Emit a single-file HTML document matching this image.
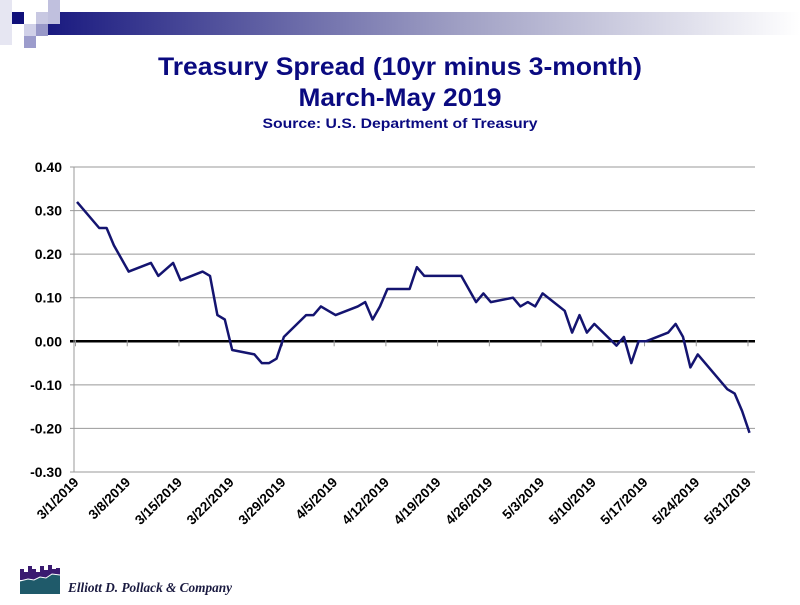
<!DOCTYPE html>
<html><head><meta charset="utf-8"><style>
body{margin:0;width:800px;height:600px;background:#fff;overflow:hidden;font-family:"Liberation Sans",sans-serif;}
</style></head><body>
<svg width="800" height="600" viewBox="0 0 800 600">
<defs><linearGradient id="hg" x1="0" x2="1" y1="0" y2="0"><stop offset="0" stop-color="#1a1a80"/><stop offset="0.55" stop-color="#a0a0c4"/><stop offset="1" stop-color="#ffffff"/></linearGradient></defs>
<g>
<rect x="48" y="12" width="752" height="23" fill="url(#hg)"/>
<rect x="0" y="0" width="12" height="45" fill="#e6e6f2"/>
<rect x="12" y="12" width="12" height="12" fill="#10107a"/>
<rect x="24" y="24" width="12" height="12" fill="#d0d0e8"/>
<rect x="36" y="12" width="12" height="24" fill="#c8c8e2"/>
<rect x="48" y="0" width="12" height="24" fill="#c0c0de"/>
<rect x="36" y="24" width="12" height="12" fill="#9898c8"/>
<rect x="24" y="36" width="12" height="12" fill="#9c9ccc"/>
</g>
<text x="400" y="75" text-anchor="middle" font-size="25" font-weight="bold" fill="#0a0a80" textLength="484" lengthAdjust="spacingAndGlyphs">Treasury Spread (10yr minus 3-month)</text>
<text x="400" y="106" text-anchor="middle" font-size="25" font-weight="bold" fill="#0a0a80" textLength="203" lengthAdjust="spacingAndGlyphs">March-May 2019</text>
<text x="400" y="128" text-anchor="middle" font-size="14" font-weight="bold" fill="#0a0a80" textLength="275" lengthAdjust="spacingAndGlyphs">Source: U.S. Department of Treasury</text>
<g id="chart"></g>
<g>
<path d="M20 580 L60 580 L60 568 L56 568 L56 569 L52 569 L52 565 L48 565 L48 570 L44 570 L44 566 L40 566 L40 572 L36 572 L36 569 L32 569 L32 566 L28 566 L28 572 L24 572 L24 569 L20 569 Z" fill="#3a1a70"/>
<path d="M20 581 L28 579 L34 580 L40 577 L46 578 L52 574 L60 575 L60 594 L20 594 Z" fill="#1f5a6a"/>
<path d="M20 581 L28 579 L34 580 L40 577 L46 578 L52 574 L60 575" fill="none" stroke="#fff" stroke-width="1"/>
</g>
<text x="68" y="592" font-family="'Liberation Serif',serif" font-style="italic" font-weight="bold" font-size="14" fill="#1a1a40" textLength="164" lengthAdjust="spacingAndGlyphs">Elliott D. Pollack &amp; Company</text>
</svg>
<script>
const dates=["3/1","3/4","3/5","3/6","3/7","3/8","3/11","3/12","3/13","3/14","3/15","3/18","3/19","3/20","3/21","3/22","3/25","3/26","3/27","3/28","3/29","4/1","4/2","4/3","4/4","4/5","4/8","4/9","4/10","4/11","4/12","4/15","4/16","4/17","4/18","4/19","4/22","4/23","4/24","4/25","4/26","4/29","4/30","5/1","5/2","5/3","5/6","5/7","5/8","5/9","5/10","5/13","5/14","5/15","5/16","5/17","5/20","5/21","5/22","5/23","5/24","5/28","5/29","5/30","5/31"];
const values=[0.32,0.26,0.26,0.22,0.19,0.16,0.18,0.15,0.165,0.18,0.14,0.16,0.15,0.06,0.05,-0.02,-0.03,-0.05,-0.05,-0.04,0.01,0.06,0.06,0.08,0.07,0.06,0.08,0.09,0.05,0.08,0.12,0.12,0.17,0.15,0.15,0.15,0.15,0.12,0.09,0.11,0.09,0.10,0.08,0.09,0.08,0.11,0.07,0.02,0.06,0.02,0.04,-0.01,0.01,-0.05,0.00,0.00,0.02,0.04,0.01,-0.06,-0.03,-0.11,-0.12,-0.16,-0.21];
const yTicks=[0.40,0.30,0.20,0.10,0.00,-0.10,-0.20,-0.30];
const xTickLabels=["3/1/2019","3/8/2019","3/15/2019","3/22/2019","3/29/2019","4/5/2019","4/12/2019","4/19/2019","4/26/2019","5/3/2019","5/10/2019","5/17/2019","5/24/2019","5/31/2019"];
const NS="http://www.w3.org/2000/svg";
const g=document.getElementById('chart');
const L=74,R=755,yTop=167,yBot=472,yMax=0.40,yMin=-0.30;
const Y=v=>yTop+(yMax-v)/(yMax-yMin)*(yBot-yTop);
function dayOf(s){const p=s.split('/');const m=+p[0],d=+p[1];return m===3?d-1:m===4?30+d:60+d;}
const X=day=>77+day*7.39;
function mk(t,a){const e=document.createElementNS(NS,t);for(const k in a)e.setAttribute(k,a[k]);g.appendChild(e);return e;}
yTicks.forEach(v=>{
  const l=mk('line',{x1:70,x2:R,y1:Y(v),y2:Y(v),stroke:Math.abs(v)<1e-9?'#000':'#999','stroke-width':Math.abs(v)<1e-9?2.5:1});
  
  
  const t=mk('text',{x:62,y:Y(v)+5,'text-anchor':'end','font-size':14,'font-weight':'bold',fill:'#000'});
  t.textContent=v.toFixed(2);
  
  
});
const ax=mk('line',{x1:L,x2:L,y1:yTop,y2:yBot,stroke:'#999','stroke-width':1});


xTickLabels.forEach((s,i)=>{
  const x=X(dayOf(s))-1.5;
  const tk=mk('line',{x1:x,x2:x,y1:Y(0)-1,y2:Y(0)+5,stroke:'#999','stroke-width':1});
  
  
  const t=mk('text',{x:x+4,y:483,'text-anchor':'end','font-size':13.5,'font-weight':'bold',fill:'#000',transform:`rotate(-45 ${x+4} 483)`});
  t.textContent=s;
  
  
});
const pts=dates.map((d,i)=>X(dayOf(d)).toFixed(1)+','+Y(values[i]).toFixed(1)).join(' ');
const pl=mk('polyline',{points:pts,fill:'none',stroke:'#141470','stroke-width':2.5,'stroke-linejoin':'round'});


</script>
</body></html>
